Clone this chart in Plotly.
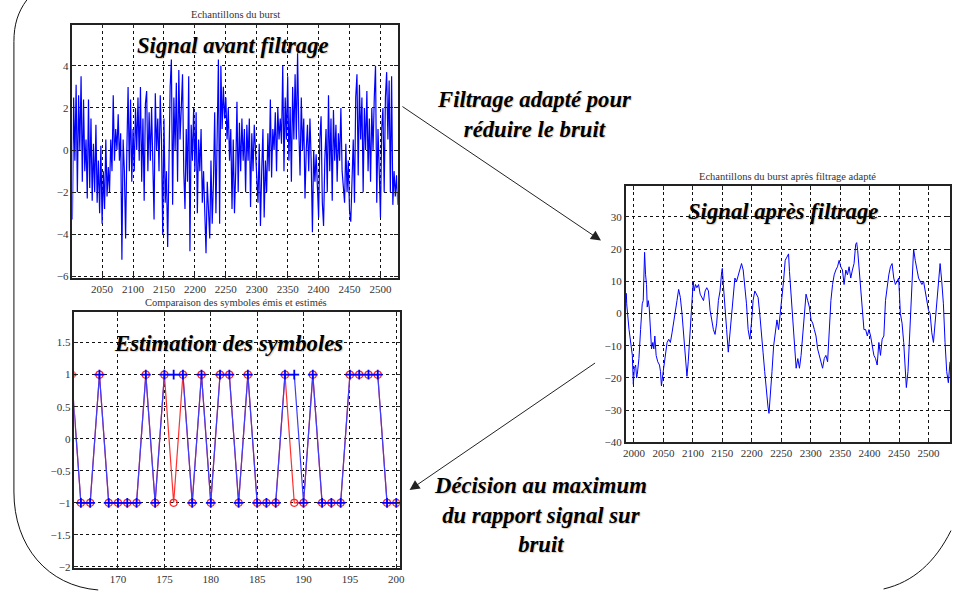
import plotly.graph_objects as go

W, H = 955, 594

# ---------------- data ----------------
# Burst samples before filtering (every 2nd sample, 2002..2528)
raw_x = list(range(2002, 2529, 2))
raw_y = [
    -3.3, 2.5, -0.5, 3.1, -2.0, 2.6, 0.0, 3.5, -1.5, 2.4,
    -1.0, 0.5, -2.3, 2.4, -1.8, 1.5, -2.4, 0.3, -2.0, 1.2,
    -2.5, -0.5, -3.0, 0.2, -3.5, -1.0, -2.8, 0.5, -2.2, -0.8,
    -2.0, 0.5, -1.0, 2.6, -0.5, 1.0, 0.0, 1.7, -0.5, 0.8,
    -5.2, 0.5, -1.0, -4.2, 0.0, 3.0, -1.0, 2.4, -1.5, 1.0,
    -1.0, 2.0, 0.0, 2.5, -0.5, 3.0, -1.5, 1.5, -2.4, 2.2,
    2.8, -1.0, 1.8, -0.5, 2.0, -1.5, -3.3, 2.7, 0.0, 1.5,
    -1.0, 2.6, 0.5, -4.0, 1.5, -2.5, -1.0, -4.6, 0.5, 3.0,
    4.3, -2.6, 2.5, 0.0, 3.2, -1.5, 3.8, 0.5, 2.0, 3.6,
    -1.0, -2.8, 1.0, -1.5, 3.5, -4.8, 1.2, -0.5, 2.0, -1.0,
    1.8, -3.0, 0.5, -1.0, 1.0, -2.5, -1.0, -3.8, -4.9, -1.5,
    -3.0, -4.2, -0.5, -3.5, -1.5, 1.8, -3.0, 0.5, 4.3, -3.5,
    4.0, 1.0, 3.0, 1.5, 2.5, 0.5, 2.0, -0.5, 1.0, -2.8,
    0.5, -3.0, -1.0, 2.3, -2.0, 1.3, -1.0, 1.5, -0.5, 1.0,
    -2.0, 1.2, -0.5, 1.5, -2.7, 0.8, -1.0, 1.2, 0.0, -1.5,
    -2.5, 0.3, -3.6, -1.0, 1.0, -3.2, -0.5, -2.0, 0.8, -1.0,
    2.4, -1.3, 1.0, 0.0, 1.8, -1.0, 2.0, 0.5, 1.5, 0.3,
    4.0, -1.0, 2.5, 0.5, 3.5, -0.5, 2.0, -1.5, 3.0, 0.5,
    3.6, 0.5, 4.6, 1.0, -1.2, 2.5, 0.0, 1.5, -2.3, 0.0,
    1.2, -1.0, 1.5, -0.5, -3.9, 0.0, -1.5, -0.2, -2.0, -3.2,
    0.5, 1.6, -2.5, -3.6, -0.5, 1.0, -2.0, 2.6, -1.0, 1.5,
    -2.4, 1.9, -0.5, 1.2, -1.5, 0.8, -0.5, 2.0, -1.0, -1.8,
    -2.5, 0.3, -2.0, -0.5, -2.9, -3.4, -1.0, 0.5, -2.5, 2.5,
    3.6, -1.2, 3.1, 0.5, 2.5, -2.0, 2.0, 0.0, 2.8, -1.0,
    1.5, -1.5, 2.0, 0.0, 2.5, 4.0, -2.5, 1.0, -1.0, -3.2,
    1.0, 2.0, -2.0, 2.5, 3.7, 0.5, 3.3, -2.0, 3.5, -2.6,
    -1.0, -2.2, -1.2, -2.6,
]

# Symbols: emitted (blue) and estimated (red)
sym_x = list(range(165, 201))
sym_emis = [1, -1, -1, 1, -1, -1, -1, -1, 1, -1, 1, 1, 1, -1, 1, -1, 1, 1,
            -1, 1, -1, -1, -1, 1, 1, -1, 1, -1, -1, -1, 1, 1, 1, 1, -1, -1]
sym_est = [1, -1, -1, 1, -1, -1, -1, -1, 1, -1, 1, -1, 1, -1, 1, -1, 1, 1,
           -1, 1, -1, -1, -1, 1, -1, -1, 1, -1, -1, -1, 1, 1, 1, 1, -1, -1]

# Burst after matched filtering
filt_x = [1987.1, 1987.6, 1991.6, 1994.4, 1997.2, 1998.9, 2000.6, 2002.8, 2004.5, 2005.6,
          2008.4, 2011.2, 2014.0, 2015.7, 2016.9, 2018.0, 2019.7, 2021.3, 2022.5, 2024.2,
          2025.8, 2028.1, 2029.8, 2032.0, 2033.7, 2035.4, 2037.6, 2040.4, 2043.3, 2045.0,
          2046.6, 2048.9, 2051.7, 2053.9, 2056.2, 2059.0, 2061.8, 2064.6, 2067.4, 2070.2,
          2073.0, 2075.8, 2078.7, 2081.5, 2084.3, 2087.1, 2089.9, 2092.1, 2094.4, 2096.6,
          2098.9, 2100.6, 2102.2, 2104.5, 2106.7, 2109.6, 2112.4, 2115.2, 2118.0, 2120.8,
          2123.6, 2126.4, 2129.2, 2132.0, 2134.8, 2137.6, 2140.4, 2143.3, 2146.1, 2148.9,
          2150.0, 2151.7, 2154.5, 2157.3, 2160.1, 2162.9, 2165.7, 2168.5, 2171.3, 2174.2,
          2177.0, 2179.8, 2182.6, 2185.4, 2188.2, 2191.0, 2193.8, 2196.6, 2199.4, 2202.2,
          2205.1, 2207.9, 2210.7, 2213.5, 2216.3, 2219.1, 2221.9, 2224.7, 2227.5, 2229.2,
          2231.5, 2234.3, 2237.1, 2239.9, 2242.7, 2245.5, 2248.3, 2251.1, 2253.9, 2256.7,
          2259.6, 2262.4, 2264.0, 2266.9, 2269.7, 2272.5, 2275.3, 2278.1, 2280.9, 2283.7,
          2286.5, 2289.3, 2292.1, 2294.9, 2297.8, 2300.6, 2303.4, 2306.2, 2309.0, 2311.8,
          2314.6, 2317.4, 2320.2, 2323.0, 2325.8, 2328.7, 2331.5, 2334.3, 2337.1, 2339.9,
          2342.7, 2345.5, 2348.3, 2351.1, 2353.9, 2356.7, 2359.6, 2362.4, 2365.2, 2368.0,
          2370.8, 2373.6, 2376.4, 2378.1, 2379.8, 2382.0, 2384.8, 2387.6, 2390.4, 2393.3,
          2396.1, 2398.9, 2401.7, 2404.5, 2407.3, 2410.1, 2412.9, 2415.7, 2418.5, 2421.3,
          2424.2, 2427.0, 2429.8, 2432.6, 2435.4, 2438.2, 2441.0, 2443.8, 2446.6, 2449.4,
          2452.2, 2455.1, 2457.9, 2460.7, 2462.4, 2465.2, 2467.4, 2470.2, 2471.9, 2474.7,
          2477.5, 2480.3, 2483.1, 2485.9, 2488.8, 2491.6, 2494.4, 2497.2, 2500.0, 2502.8,
          2505.6, 2508.4, 2511.2, 2514.0, 2516.9, 2519.7, 2522.5, 2525.3, 2528.1, 2530.9,
          2533.7, 2536.5]
filt_y = [6.3, 3, -5, -10, -13, -22, -17, -16, -20, -19,
          -14, -5, 3, 4, 15, 19, 12, 9, 2, 4,
          2, -8, -11, -9, -11, -7, -13, -15, -16, -18,
          -22.5, -19, -15, -13, -9, -8, -9, -6, -3, 0,
          4, 7.5, 5, 0, -6, -12, -19.5, -15, -8, -2,
          5, 10, 7, 9, 8, 9, 6, 5, 4, 7,
          8, 7, 1, -2, -5, -6.5, -3, 4, 7, 13,
          14, 9, 3, -5, -12, -6, 1, 6, 11, 10,
          12, 14, 15.5, 13.5, 9, 3, -5, -8, -3, 4,
          7, 6, 5, 0, -5, -12, -18, -25, -29, -31,
          -26, -18, -10, -6, -2, -5, 1, 5, 10, 16.5,
          17.5, 18.5, 13, 5, -3, -10, -17, -14, -17, -13,
          -7, -1, 6, 4, 2, -2, -3, -5, -7, -11,
          -13, -15, -17, -14, -13, -15, -3, 4, 9, 12,
          13.5, 14.5, 16.5, 14.5, 13.5, 9, 13.5, 12, 14.5, 11,
          13.5, 15.5, 21.5, 22, 19.5, 14.5, 7, 0, -5, -5,
          -7, -5, -7, -10, -13, -14, -16, -9, -13, -8,
          -7, 4, 9, 12, 14.5, 15.5, 11, 9, 10, 11,
          0, -3, -9, -17, -23, -18, -9, 3, 13.5, 20,
          16.5, 13.5, 11, 10, 9, 10, 7, 4, 1, 0,
          -6, -9, -3, 3, 11, 15.5, 10, 3, -9, -18,
          -21.5, -15]

ticks_raw_x = [2050, 2100, 2150, 2200, 2250, 2300, 2350, 2400, 2450, 2500]
ticks_raw_y = [-6, -4, -2, 0, 2, 4]
ticks_sym_x = [170, 175, 180, 185, 190, 195, 200]
ticks_sym_y = [-2, -1.5, -1, -0.5, 0, 0.5, 1, 1.5]
ticks_filt_x = [2000, 2050, 2100, 2150, 2200, 2250, 2300, 2350, 2400, 2450, 2500]
ticks_filt_y = [-40, -30, -20, -10, 0, 10, 20, 30]

SERIF = "Liberation Serif"


def px(x):
    return x / W


def py(y):
    return 1 - y / H


fig = go.Figure()

fig.add_trace(go.Scatter(x=raw_x, y=raw_y, mode="lines", xaxis="x", yaxis="y",
                         line=dict(color="#0000ff", width=1.2)))
fig.add_trace(go.Scatter(x=sym_x, y=sym_est, mode="lines+markers", xaxis="x2", yaxis="y2",
                         line=dict(color="#ff3030", width=1.2),
                         marker=dict(symbol="circle-open", size=7, color="#ff2020",
                                     line=dict(width=1.2, color="#ff2020"))))
fig.add_trace(go.Scatter(x=sym_x, y=sym_emis, mode="lines+markers", xaxis="x2", yaxis="y2",
                         line=dict(color="#3c3cff", width=1.2),
                         marker=dict(symbol="cross-thin-open", size=7, color="#0000ff",
                                     line=dict(width=1.8, color="#0000ff"))))
fig.add_trace(go.Scatter(x=filt_x, y=filt_y, mode="lines", xaxis="x3", yaxis="y3",
                         line=dict(color="#0000ff", width=1)))

axis_common = dict(showline=True, mirror="ticks", linecolor="#222", linewidth=1.5,
                   showgrid=True, gridcolor="#111", griddash="3px,3px", gridwidth=1,
                   zeroline=False, ticks="inside", ticklen=4, tickcolor="#222",
                   tickfont=dict(family=SERIF, size=11, color="#333"),
                   fixedrange=True)

fig.update_layout(
    width=W, height=H, margin=dict(l=0, r=0, t=0, b=0),
    paper_bgcolor="white", plot_bgcolor="white", showlegend=False,
    font=dict(family=SERIF),
    xaxis=dict(domain=[px(70), px(398)], range=[2002, 2527.8], tickvals=ticks_raw_x,
               anchor="y", **axis_common),
    yaxis=dict(domain=[py(281), py(25)], range=[-6.08, 5.95], tickvals=ticks_raw_y,
               anchor="x", **axis_common),
    xaxis2=dict(domain=[px(72), px(400)], range=[165.3, 200.36], tickvals=ticks_sym_x,
                anchor="y2", **axis_common),
    yaxis2=dict(domain=[py(574), py(315)], range=[-2.02, 1.98], tickvals=ticks_sym_y,
                anchor="x2", **axis_common),
    xaxis3=dict(domain=[px(628), 1.0], range=[1986, 2536.5], tickvals=ticks_filt_x,
                anchor="y3", **axis_common),
    yaxis3=dict(domain=[py(447), py(188)], range=[-40.05, 39.55], tickvals=ticks_filt_y,
                anchor="x3", **axis_common),
)

small = dict(family=SERIF, size=10.5, color="#333")
big = dict(family=SERIF, size=22.7, color="black", weight="bold",
           style="italic", shadow="1px 1px 1px rgba(150,110,60,0.35)")

annos = [
    ("Echantillons du burst", 234, 15, small),
    ("Comparaison des symboles émis et estimés", 235, 306, small),
    ("Echantillons du burst après filtrage adapté", 791, 178, small),
    ("Signal avant filtrage", 232, 46, big),
    ("Estimation des symboles", 227, 347, big),
    ("Signal après filtrage", 787, 214, big),
    ("Filtrage adapté pour<br>réduire le bruit", 535, 116, big),
    ("Décision au maximum<br>du rapport signal sur<br>bruit", 542, 520, big),
]
for text, x, y, f in annos:
    fig.add_annotation(text=text, x=px(x), y=py(y), xref="paper", yref="paper",
                       showarrow=False, xanchor="center", yanchor="middle", font=f)

# arrows
for (hx, hy, tx, ty) in [(603, 243, 403, 108), (410, 495, 597, 367)]:
    fig.add_annotation(x=px(hx), y=py(hy), xref="paper", yref="paper", text="",
                       showarrow=True, axref="pixel", ayref="pixel",
                       ax=tx - hx, ay=ty - hy, arrowhead=2, arrowsize=2,
                       arrowwidth=1, arrowcolor="#222", standoff=0)

# decorative frame curves
left_path = (f"M {px(24)},{py(0)} C {px(15)},{py(12)} {px(11)},{py(25)} {px(11)},{py(42)} "
             f"L {px(11)},{py(497)} C {px(11)},{py(552)} {px(45)},{py(592)} {px(96)},{py(596)}")
right_path = (f"M {px(956)},{py(536)} C {px(940)},{py(568)} {px(918)},{py(588)} {px(888)},{py(595)}")
for p in (left_path, right_path):
    fig.add_shape(type="path", path=p, xref="paper", yref="paper",
                  line=dict(color="#111", width=1))

fig.write_html("out.html")
